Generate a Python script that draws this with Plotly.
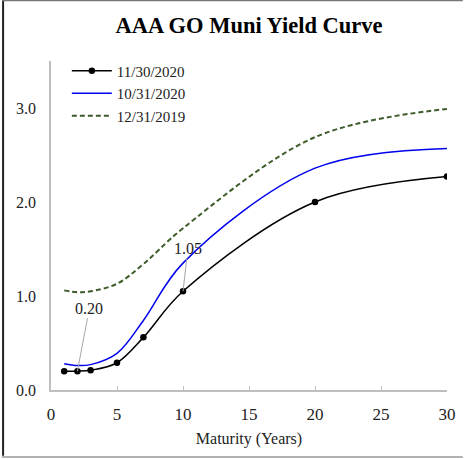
import plotly.graph_objects as go

maturity = [1, 2, 3, 5, 7, 10, 20, 30]
nov_2020 = [0.20, 0.20, 0.21, 0.29, 0.56, 1.05, 2.00, 2.27]
oct_2020 = [0.28, 0.26, 0.27, 0.39, 0.74, 1.35, 2.36, 2.57]
dec_2019 = [1.06, 1.04, 1.05, 1.13, 1.34, 1.72, 2.69, 2.99]

x_ticks = [0, 5, 10, 15, 20, 25, 30]
y_ticks = [0, 1, 2, 3]

FONT = "Liberation Serif"

fig = go.Figure()
fig.add_trace(go.Scatter(x=maturity, y=nov_2020, name="11/30/2020", mode="lines+markers",
                         line=dict(color="black", width=1.5, shape="spline"),
                         marker=dict(color="black", size=6.5)))
fig.add_trace(go.Scatter(x=maturity, y=oct_2020, name="10/31/2020", mode="lines",
                         line=dict(color="#0000ee", width=1.5, shape="spline")))
fig.add_trace(go.Scatter(x=maturity, y=dec_2019, name="12/31/2019", mode="lines",
                         line=dict(color="#3d5c2a", width=2, dash="5px,3px", shape="spline")))

for i, (dx, dy) in [(1, (12, -63)), (5, (5, -43))]:
    fig.add_annotation(x=maturity[i], y=nov_2020[i], text=f"{nov_2020[i]:.2f}",
                       showarrow=True, arrowhead=0, arrowcolor="#a6a6a6", arrowwidth=1,
                       ax=dx, ay=dy, standoff=0,
                       font=dict(family=FONT, size=16, color="#222"))

# outer frame
fig.add_shape(type="line", xref="paper", yref="paper", x0=-0.121, x1=-0.121, y0=-0.2, y1=1.186,
              line=dict(color="#222", width=2))
fig.add_shape(type="line", xref="paper", yref="paper", x0=-0.124, x1=1.04, y0=1.184, y1=1.184,
              line=dict(color="#777", width=1.5))
fig.add_shape(type="line", xref="paper", yref="paper", x0=-0.124, x1=1.04, y0=-0.2037, y1=-0.2037,
              line=dict(color="#999", width=1.5))

fig.update_layout(
    width=465, height=459,
    margin=dict(l=51, r=18, t=61, b=69, autoexpand=False),
    paper_bgcolor="white", plot_bgcolor="white",
    font=dict(family=FONT, size=15, color="#222"),
    title=dict(text="<b>AAA GO Muni Yield Curve</b>", x=0.5, xref="paper", xanchor="center",
               y=1 - 25 / 459, yanchor="middle", font=dict(family=FONT, size=22.5, color="black")),
    showlegend=True,
    legend=dict(x=0.04, y=1.02, xanchor="left", yanchor="top", bgcolor="rgba(0,0,0,0)",
                font=dict(family=FONT, size=15, color="#222"), itemwidth=40, tracegroupgap=0),
    xaxis=dict(range=[0, 30], tickvals=x_ticks, showgrid=False, zeroline=False, automargin=False,
               showline=True, linecolor="#bfbfbf", linewidth=1.5,
               ticks="inside", ticklen=4, tickcolor="#bfbfbf", ticklabelstandoff=8,
               title=dict(text="Maturity (Years)", font=dict(family=FONT, size=16), standoff=10),
               tickfont=dict(size=17)),
    yaxis=dict(range=[0, 3.5], tickvals=y_ticks, tickformat=".1f", showgrid=False, zeroline=False,
               automargin=False,
               showline=True, linecolor="#bfbfbf", linewidth=1.5, ticks="", ticklabelstandoff=10,
               tickfont=dict(size=16)),
)

fig.write_html("out.html", config={"displayModeBar": False},
               post_script="document.body.style.margin='0px';")
